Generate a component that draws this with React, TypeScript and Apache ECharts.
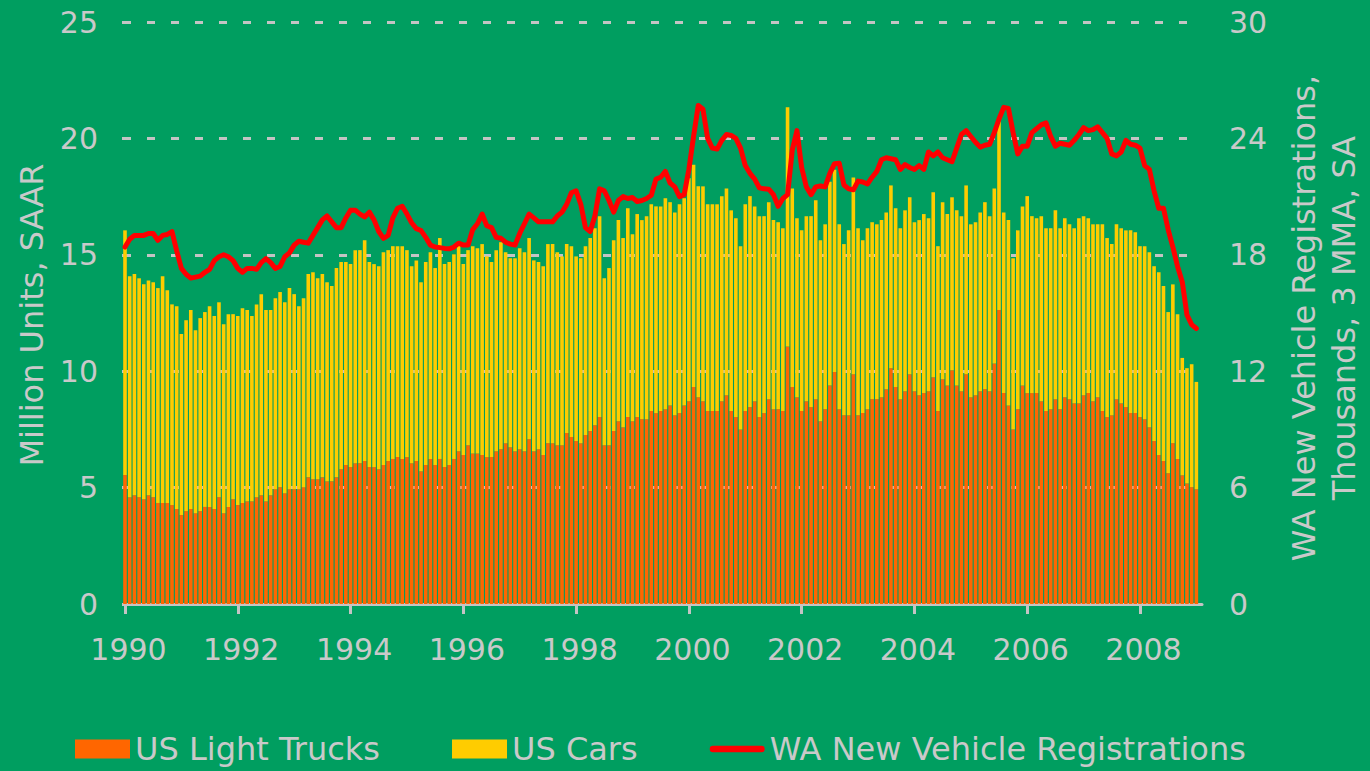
import React, { useEffect, useRef } from "react";
import * as echarts from "echarts";

// Month index 0 = Jan 1990 ... 228 = Jan 2009
const firstYear = 1990;
const yearTicks = [0, 24, 48, 72, 96, 120, 144, 168, 192, 216];

// US Light Trucks, million units SAAR
const trucks = [
  5.54, 4.59, 4.67, 4.59, 4.5, 4.67, 4.59, 4.34, 4.34, 4.34, 4.25, 4.08,
  3.82, 3.99, 4.08, 3.9, 3.99, 4.17, 4.17, 4.08, 4.59, 3.9, 4.17, 4.5,
  4.25, 4.34, 4.41, 4.41, 4.59, 4.67, 4.41, 4.67, 4.93, 5.02, 4.76, 4.93,
  4.93, 4.93, 5.02, 5.44, 5.36, 5.36, 5.44, 5.27, 5.27, 5.44, 5.79, 5.97,
  5.88, 6.05, 6.05, 6.14, 5.88, 5.88, 5.79, 5.97, 6.14, 6.23, 6.31, 6.23,
  6.31, 6.05, 6.14, 5.7, 5.97, 6.23, 5.97, 6.23, 5.88, 5.97, 6.23, 6.56,
  6.4, 6.82, 6.47, 6.47, 6.4, 6.31, 6.31, 6.56, 6.65, 6.91, 6.73, 6.56,
  6.65, 6.56, 7.08, 6.56, 6.65, 6.4, 6.91, 6.91, 6.82, 6.82, 7.34, 7.17,
  7.0, 6.91, 7.26, 7.43, 7.68, 8.03, 6.82, 6.82, 7.43, 7.85, 7.59, 8.03,
  7.85, 8.03, 7.94, 7.94, 8.29, 8.2, 8.29, 8.37, 8.53, 8.11, 8.2, 8.53,
  8.71, 9.32, 8.88, 8.71, 8.29, 8.29, 8.29, 8.71, 8.97, 8.29, 8.03, 7.5,
  8.29, 8.46, 8.71, 8.03, 8.2, 8.8, 8.37, 8.37, 8.29, 11.06, 9.32, 8.88,
  8.29, 8.71, 8.46, 8.8, 7.85, 8.37, 9.39, 9.97, 8.37, 8.11, 8.11, 9.87,
  8.11, 8.2, 8.37, 8.8, 8.8, 8.88, 9.23, 10.13, 9.32, 8.8, 9.14, 9.87,
  9.14, 8.97, 9.06, 9.14, 9.74, 8.29, 9.65, 9.39, 10.04, 9.39, 9.14, 9.87,
  8.88, 8.97, 9.14, 9.23, 9.14, 10.33, 12.63, 9.06, 8.53, 7.5, 8.37, 9.39,
  9.06, 9.06, 9.06, 8.71, 8.29, 8.37, 8.8, 8.37, 8.88, 8.8, 8.62, 8.62,
  8.97, 9.06, 8.71, 8.88, 8.29, 8.03, 8.11, 8.8, 8.62, 8.46, 8.2, 8.2,
  8.03, 7.94, 7.59, 7.0, 6.4, 6.14, 5.62, 6.91, 6.23, 5.53, 5.18, 5.02,
  4.93,
];

// US Cars, million units SAAR
const cars = [
  10.51, 9.49, 9.5, 9.4, 9.23, 9.23, 9.23, 9.23, 9.74, 9.14, 8.62, 8.71,
  7.78, 8.2, 8.55, 7.86, 8.29, 8.37, 8.62, 8.29, 8.37, 8.12, 8.28, 7.95,
  8.12, 8.36, 8.22, 7.96, 8.28, 8.64, 8.22, 7.96, 8.2, 8.38, 8.2, 8.64,
  8.38, 7.86, 8.11, 8.73, 8.89, 8.63, 8.73, 8.55, 8.39, 8.99, 8.9, 8.72,
  8.72, 9.15, 9.15, 9.49, 8.81, 8.72, 8.72, 9.14, 9.06, 9.14, 9.06, 9.14,
  8.89, 8.46, 8.62, 8.12, 8.72, 8.88, 8.46, 9.49, 8.72, 8.72, 8.79, 8.98,
  8.2, 8.38, 8.9, 8.81, 9.06, 8.62, 8.38, 8.64, 8.89, 8.2, 8.12, 8.29,
  8.63, 8.55, 8.64, 8.2, 8.04, 8.11, 8.55, 8.55, 8.29, 8.11, 8.12, 8.2,
  7.93, 7.94, 8.11, 8.29, 8.46, 8.63, 7.17, 7.61, 8.2, 8.64, 8.13, 8.97,
  8.03, 8.72, 8.55, 8.72, 8.88, 8.88, 8.79, 9.06, 8.73, 8.71, 8.97, 8.9,
  9.58, 9.55, 9.06, 9.23, 8.88, 8.88, 8.88, 8.81, 8.88, 8.62, 8.54, 7.87,
  8.88, 9.06, 8.37, 8.63, 8.46, 8.46, 8.12, 8.03, 7.85, 10.28, 8.53, 7.69,
  7.76, 7.95, 8.2, 8.54, 7.78, 7.94, 8.75, 8.68, 7.94, 7.35, 7.94, 8.45,
  8.03, 7.43, 7.77, 7.6, 7.51, 7.61, 7.59, 7.85, 7.68, 7.34, 7.77, 7.6,
  7.26, 7.52, 7.69, 7.43, 7.95, 7.08, 7.61, 7.36, 7.43, 7.52, 7.52, 8.11,
  7.43, 7.43, 7.68, 8.03, 7.52, 7.52, 8.1, 7.76, 7.96, 7.35, 7.68, 7.69,
  8.46, 7.6, 7.51, 7.95, 7.85, 7.77, 8.11, 7.77, 7.69, 7.51, 7.52, 7.95,
  7.69, 7.51, 7.6, 7.43, 8.02, 7.69, 7.35, 7.51, 7.52, 7.59, 7.85, 7.77,
  7.34, 7.43, 7.52, 7.51, 7.85, 7.52, 6.92, 6.82, 6.22, 5.04, 4.95, 5.28,
  4.61,
];

// WA New Vehicle Registrations, thousands, 3 MMA, SA
const waRegistrations = [
  18.4, 18.8, 19.0, 19.0, 19.0, 19.1, 19.1, 18.75, 19.0, 19.05, 19.2, 18.2,
  17.3, 17.0, 16.8, 16.85, 16.9, 17.1, 17.25, 17.7, 17.9, 18.0, 17.9, 17.7,
  17.3, 17.1, 17.3, 17.3, 17.25, 17.6, 17.8, 17.6, 17.3, 17.4, 17.9, 18.1,
  18.5, 18.7, 18.65, 18.6, 19.0, 19.4, 19.8, 20.0, 19.7, 19.4, 19.4, 19.9,
  20.3, 20.3, 20.1, 19.95, 20.2, 19.8, 19.2, 18.85, 19.0, 19.9, 20.4, 20.5,
  20.1, 19.65, 19.35, 19.25, 18.9, 18.5, 18.4, 18.37, 18.33, 18.31, 18.4, 18.6,
  18.5, 18.5, 19.3, 19.6, 20.1, 19.5, 19.4, 18.9, 18.85, 18.65, 18.55, 18.5,
  19.1, 19.6, 20.1, 19.9, 19.7, 19.7, 19.7, 19.7, 20.0, 20.2, 20.6, 21.2,
  21.3, 20.6, 19.4, 19.2, 20.0, 21.4, 21.3, 20.8, 20.2, 20.8, 21.0, 20.9,
  20.95, 20.75, 20.8, 20.9, 21.07, 21.9, 22.0, 22.3, 21.7, 21.5, 21.0, 21.1,
  22.4, 24.1, 25.7, 25.5, 24.0, 23.5, 23.45, 23.9, 24.2, 24.15, 24.0, 23.5,
  22.6, 22.2, 21.9, 21.45, 21.4, 21.38, 21.1, 20.5, 20.9, 21.1, 23.4, 24.4,
  22.5, 21.5, 21.1, 21.5, 21.55, 21.5, 22.2, 22.7, 22.72, 21.6, 21.4, 21.35,
  21.8, 21.75, 21.65, 22.0, 22.3, 22.9, 23.0, 22.95, 22.9, 22.4, 22.65, 22.5,
  22.4, 22.6, 22.4, 23.3, 23.1, 23.3, 23.0, 22.9, 22.8, 23.5, 24.2, 24.4,
  24.1, 23.8, 23.55, 23.65, 23.7, 24.3, 25.0, 25.6, 25.55, 24.3, 23.2, 23.6,
  23.6, 24.3, 24.5, 24.7, 24.8, 24.1, 23.6, 23.75, 23.7, 23.65, 23.9, 24.2,
  24.55, 24.4, 24.45, 24.6, 24.3, 24.0, 23.2, 23.1, 23.3, 23.9, 23.7, 23.65,
  23.5, 22.6, 22.4, 21.3, 20.4, 20.4, 19.3, 18.4, 17.4, 16.6, 14.9, 14.4,
  14.2,
];

const seriesNames = ["US Light Trucks", "US Cars", "WA New Vehicle Registrations"];
const leftTitle = "Million Units, SAAR";
const rightTitle = ["WA New Vehicle Registrations,", "Thousands, 3 MMA, SA"];

export default function App() {
  const ref = useRef<HTMLDivElement>(null);

  useEffect(() => {
    if (!ref.current) return;
    const chart = echarts.init(ref.current, null, { renderer: "svg" });
    const font = "DejaVu Sans";
    const textColor = "#C9C9C9";
    const gridColor = "#C4C4C4";
    const titleStyle = {
      fill: textColor,
      fontSize: 32,
      fontFamily: font,
      align: "center",
      verticalAlign: "middle",
      textAlign: "center",
      textVerticalAlign: "middle",
    };

    chart.setOption({
      animation: false,
      backgroundColor: "#009E60",
      textStyle: { fontFamily: font },
      grid: { left: 125, right: 168, top: 22, bottom: 167 },
      legend: {
        left: 75,
        top: 733,
        padding: 0,
        itemWidth: 55,
        itemHeight: 19,
        itemGap: 72,
        symbolKeepAspect: true,
        textStyle: { color: textColor, fontSize: 32, fontFamily: font, lineHeight: 32 },
        data: [
          { name: seriesNames[0], icon: "rect" },
          { name: seriesNames[1], icon: "rect" },
          {
            name: seriesNames[2],
            icon: "path://M3.5,0 L55.5,0 A3.5,3.5 0 0 1 55.5,7 L3.5,7 A3.5,3.5 0 0 1 3.5,0 Z",
            itemStyle: { color: "#FF0000" },
          },
        ],
      },
      xAxis: {
        type: "value",
        min: 0,
        max: 229.2,
        axisLine: { show: true, onZero: false, lineStyle: { color: gridColor, width: 3 } },
        axisTick: {
          show: true,
          customValues: yearTicks,
          length: 10,
          lineStyle: { color: gridColor, width: 3 },
        },
        axisLabel: {
          customValues: yearTicks,
          formatter: (v: number) => String(firstYear + Math.round(v / 12)),
          color: textColor,
          fontSize: 30,
          fontFamily: font,
          margin: 30,
          padding: [0, 0, 0, 7],
        },
        splitLine: { show: false },
      },
      yAxis: [
        {
          type: "value",
          position: "left",
          min: 0,
          max: 25,
          interval: 5,
          axisLine: { show: false },
          axisTick: { show: true, length: 3, lineStyle: { color: gridColor, width: 3 } },
          axisLabel: { color: textColor, fontSize: 30, fontFamily: font, margin: 27 },
          splitLine: {
            show: true,
            lineStyle: { color: gridColor, width: 3, type: [8, 16], dashOffset: 2 },
          },
        },
        {
          type: "value",
          position: "right",
          min: 0,
          max: 30,
          interval: 6,
          axisLine: { show: false },
          axisTick: { show: false },
          axisLabel: { color: textColor, fontSize: 30, fontFamily: font, margin: 27 },
          splitLine: { show: false },
        },
      ],
      graphic: [
        { type: "text", x: 32, y: 315, rotation: Math.PI / 2, style: { ...titleStyle, text: leftTitle } },
        { type: "text", x: 1304, y: 318, rotation: Math.PI / 2, style: { ...titleStyle, text: rightTitle[0] } },
        { type: "text", x: 1344, y: 318, rotation: Math.PI / 2, style: { ...titleStyle, text: rightTitle[1] } },
      ],
      series: [
        {
          name: seriesNames[0],
          type: "bar",
          stack: "us",
          barWidth: 3.6,
          itemStyle: { color: "#FF6600" },
          encode: { x: 1, y: 0 },
          data: trucks.map((v, i) => [v, i]),
        },
        {
          name: seriesNames[1],
          type: "bar",
          stack: "us",
          barWidth: 3.6,
          itemStyle: { color: "#FFCC00" },
          encode: { x: 1, y: 0 },
          data: cars.map((v, i) => [v, i]),
        },
        {
          name: seriesNames[2],
          type: "line",
          yAxisIndex: 1,
          symbol: "none",
          z: 5,
          lineStyle: { color: "#FF0000", width: 5, cap: "round", join: "round" },
          itemStyle: { color: "#FF0000" },
          data: waRegistrations.map((v, i) => [i, v]),
        },
      ],
    });

    return () => chart.dispose();
  }, []);

  return (
    <div
      ref={ref}
      style={{ position: "fixed", left: 0, top: 0, width: 1370, height: 771 }}
    />
  );
}
